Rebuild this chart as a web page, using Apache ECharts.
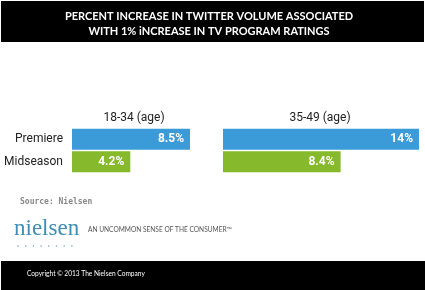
<!DOCTYPE html>
<html>
<head>
<meta charset="utf-8">
<script src="https://cdn.jsdelivr.net/npm/echarts@6/dist/echarts.min.js"></script>
<style>
  html, body { margin: 0; padding: 0; background: #fff; }
  #main { width: 425px; height: 290px; }
</style>
</head>
<body>
<div id="main"></div>
<script>
var categories = ['Premiere', 'Midseason'];
var age1834 = [8.5, 4.2];
var age3549 = [14, 8.4];
var panelTitles = ['18-34 (age)', '35-49 (age)'];
var barColors = ['#3b9bd9', '#86b92b'];

var myChart = echarts.init(document.getElementById('main'));

function barSeries(idx, values) {
  return {
    type: 'bar',
    xAxisIndex: idx,
    yAxisIndex: idx,
    barWidth: 21,
    itemStyle: {
      color: function(p) { return barColors[p.dataIndex]; }
    },
    label: {
      show: true,
      position: 'insideRight',
      distance: 6,
      color: '#fff',
      fontFamily: 'Roboto',
      fontWeight: 'bold',
      fontSize: 12,
      formatter: '{c}%'
    },
    data: values
  };
}

// little dots under the logo
var dots = [];
for (var i = 0; i < 8; i++) {
  dots.push({ type: 'circle', shape: { cx: 18 + i * 7.7, cy: 246, r: 0.8 }, style: { fill: '#6aa5c5' } });
}

var option = {
  animation: false,
  backgroundColor: '#fff',
  grid: [
    { left: 72, top: 128, width: 118, height: 45 },
    { left: 223, top: 128, width: 196, height: 45 }
  ],
  xAxis: [
    { gridIndex: 0, type: 'value', min: 0, max: 8.5, show: false },
    { gridIndex: 1, type: 'value', min: 0, max: 14, show: false }
  ],
  yAxis: [
    {
      gridIndex: 0, type: 'category', inverse: true, data: categories,
      axisLine: { show: false }, axisTick: { show: false },
      axisLabel: { color: '#222', fontFamily: 'Roboto', fontSize: 12, margin: 9 }
    },
    {
      gridIndex: 1, type: 'category', inverse: true, data: categories,
      show: false
    }
  ],
  series: [barSeries(0, age1834), barSeries(1, age3549)],
  graphic: [
    { type: 'rect', shape: { x: 1, y: 1, width: 423, height: 41 }, style: { fill: '#000' } },
    { type: 'text', x: 209, y: 16, style: {
      text: 'PERCENT INCREASE IN TWITTER VOLUME ASSOCIATED', fill: '#fff',
      font: 'bold 11px Lato', align: 'center', verticalAlign: 'middle' } },
    { type: 'text', x: 209, y: 31, style: {
      text: 'WITH 1% iNCREASE IN TV PROGRAM RATINGS', fill: '#fff',
      font: 'bold 11px Lato', align: 'center', verticalAlign: 'middle' } },
    { type: 'text', x: 134, y: 118, style: {
      text: panelTitles[0], fill: '#222', font: '12px Roboto',
      align: 'center', verticalAlign: 'middle' } },
    { type: 'text', x: 320, y: 118, style: {
      text: panelTitles[1], fill: '#222', font: '12px Roboto',
      align: 'center', verticalAlign: 'middle' } },
    { type: 'text', x: 20, y: 202, style: {
      text: 'Source: Nielsen', fill: '#888', font: 'bold 8px "DejaVu Sans Mono"',
      verticalAlign: 'middle' } },
    { type: 'text', x: 14, y: 229, style: {
      text: 'nielsen', fill: '#3d8db5', font: '23px "Liberation Serif"',
      verticalAlign: 'middle' } },
    { type: 'group', children: dots },
    { type: 'text', x: 88, y: 230, style: {
      text: 'AN UNCOMMON SENSE OF THE CONSUMER\u2122', fill: '#555', font: '6.6px Lato',
      verticalAlign: 'middle' } },
    { type: 'rect', shape: { x: 1, y: 261, width: 424, height: 29 }, style: { fill: '#000' } },
    { type: 'text', x: 27, y: 274, style: {
      text: 'Copyright \u00a9 2013 The Nielsen Company', fill: '#fff', font: '6.6px Lato',
      verticalAlign: 'middle' } }
  ]
};

myChart.setOption(option);
</script>
</body>
</html>
